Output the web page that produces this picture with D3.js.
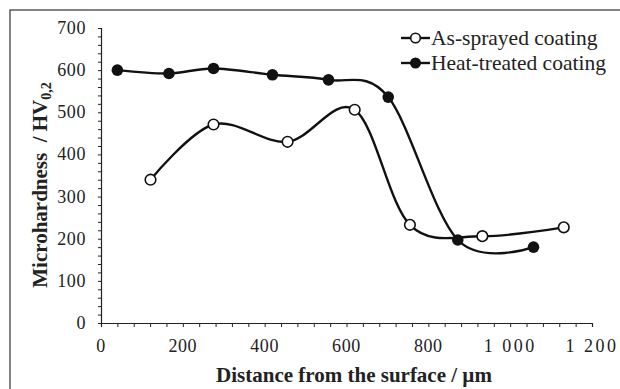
<!DOCTYPE html>
<html>
<head>
<meta charset="utf-8">
<script src="https://cdn.jsdelivr.net/npm/d3@7"></script>
<style>
  body { margin: 0; background: #fff; }
  svg text { font-family: 'Liberation Serif', 'DejaVu Serif', 'Times New Roman', Times, serif; }
</style>
</head>
<body>
<svg id="chart" width="620" height="389"></svg>
<script>
// distances (µm) and microhardness (HV0,2)
const sprayedX = [121, 275, 456, 620, 755, 932, 1131];
const sprayedY = [340, 471, 430, 506, 233, 206, 227];
const heatX = [40, 166, 275, 419, 556, 702, 872, 1057];
const heatY = [600, 592, 604, 589, 577, 536, 197, 180];

const xTicks = [0, 200, 400, 600, 800, 1000, 1200];
const yTicks = [0, 100, 200, 300, 400, 500, 600, 700];
const legendNames = ['As-sprayed coating', 'Heat-treated coating'];

const svg = d3.select('#chart');

// outer frame (runs off the right and bottom of the picture)
svg.append('rect')
  .attr('x', 10).attr('y', 10)
  .attr('width', 640).attr('height', 400)
  .attr('fill', 'none')
  .attr('stroke', '#333')
  .attr('stroke-width', 1.2);

const x = d3.scaleLinear().domain([0, 1200]).range([101, 592]);
const y = d3.scaleLinear().domain([0, 700]).range([323, 28]);

const fmtX = (d) => (d >= 1000 ? d3.format(',')(d).replace(',', ' ') : d);

// minor ticks
const xAxis = svg.append('g').attr('transform', `translate(0,${y(0)})`);
xAxis.call(d3.axisBottom(x).tickValues(d3.range(0, 1201, 40)).tickSize(4).tickFormat(''));
const yAxis = svg.append('g').attr('transform', `translate(${x(0)},0)`);
yAxis.call(d3.axisLeft(y).tickValues(d3.range(0, 701, 20)).tickSize(3).tickFormat(''));

[xAxis, yAxis].forEach((g) => {
  g.select('.domain').attr('stroke', '#222').attr('stroke-width', 1.2);
  g.selectAll('.tick line').attr('stroke', '#222').attr('stroke-width', 1);
});

// tick labels
svg.append('g')
  .selectAll('text')
  .data(xTicks)
  .join('text')
  .attr('x', (d) => x(d))
  .attr('y', 352)
  .attr('text-anchor', 'middle')
  .attr('font-size', 18)
  .attr('letter-spacing', (d) => (d >= 1000 ? 2.5 : 0.6))
  .attr('fill', '#222')
  .text((d) => fmtX(d));

svg.append('g')
  .selectAll('text')
  .data(yTicks)
  .join('text')
  .attr('x', 86)
  .attr('y', (d) => y(d) + 6)
  .attr('text-anchor', 'end')
  .attr('font-size', 18)
  .attr('letter-spacing', 0.6)
  .attr('fill', '#222')
  .text((d) => d);

// axis titles
svg.append('text')
  .attr('x', 354)
  .attr('y', 382)
  .attr('text-anchor', 'middle')
  .attr('font-size', 21)
  .attr('font-weight', 'bold')
  .attr('fill', '#222')
  .text('Distance from the surface / \u00b5m');

const yTitle = svg.append('text')
  .attr('transform', 'translate(47,185) rotate(-90)')
  .attr('text-anchor', 'middle')
  .attr('font-size', 21)
  .attr('font-weight', 'bold')
  .attr('fill', '#222');
yTitle.append('tspan').text('Microhardness\u00a0\u00a0/ HV');
yTitle.append('tspan').attr('dy', 4).attr('font-size', 14).text('0,2');

// series
const line = d3.line()
  .x((d) => x(d[0]))
  .y((d) => y(d[1]))
  .curve(d3.curveCardinal.tension(0));

const sprayed = d3.zip(sprayedX, sprayedY);
const heat = d3.zip(heatX, heatY);

[sprayed, heat].forEach((pts) => {
  svg.append('path')
    .datum(pts)
    .attr('d', line)
    .attr('fill', 'none')
    .attr('stroke', '#111')
    .attr('stroke-width', 2.4);
});

svg.append('g')
  .selectAll('circle')
  .data(heat)
  .join('circle')
  .attr('cx', (d) => x(d[0]))
  .attr('cy', (d) => y(d[1]))
  .attr('r', 5.8)
  .attr('fill', '#111');

svg.append('g')
  .selectAll('circle')
  .data(sprayed)
  .join('circle')
  .attr('cx', (d) => x(d[0]))
  .attr('cy', (d) => y(d[1]))
  .attr('r', 5.3)
  .attr('fill', '#fff')
  .attr('stroke', '#111')
  .attr('stroke-width', 1.6);

// legend
const legend = svg.append('g')
  .selectAll('g')
  .data(legendNames)
  .join('g')
  .attr('transform', (d, i) => `translate(401,${38 + i * 25})`);

legend.append('line')
  .attr('x1', 0).attr('x2', 29)
  .attr('stroke', '#111')
  .attr('stroke-width', 2.4);

legend.append('circle')
  .attr('cx', 14.5)
  .attr('r', (d, i) => (i === 0 ? 4.8 : 5.5))
  .attr('fill', (d, i) => (i === 0 ? '#fff' : '#111'))
  .attr('stroke', '#111')
  .attr('stroke-width', (d, i) => (i === 0 ? 1.6 : 0));

legend.append('text')
  .attr('x', 30)
  .attr('y', 6.5)
  .attr('font-size', 21.5)
  .attr('fill', '#222')
  .text((d) => d);
</script>
</body>
</html>
